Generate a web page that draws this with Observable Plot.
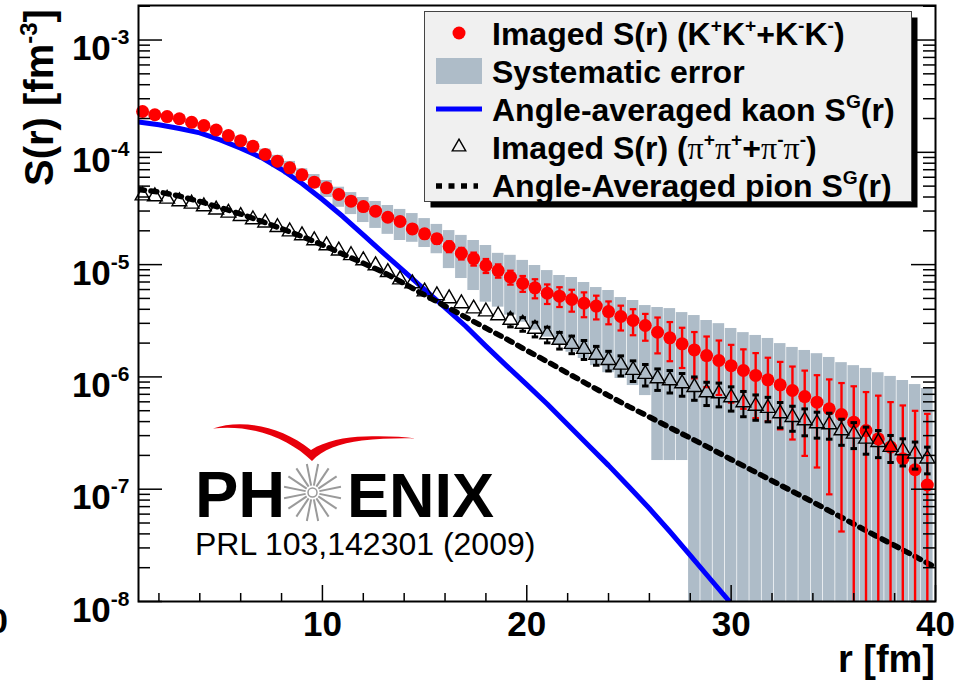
<!DOCTYPE html>
<html>
<head>
<meta charset="utf-8">
<script src="https://cdn.jsdelivr.net/npm/d3@7"></script>
<script src="https://cdn.jsdelivr.net/npm/@observablehq/plot@0.6"></script>
<style>
  html, body { margin: 0; padding: 0; background: #fff; }
  #chart { width: 957px; height: 686px; overflow: hidden; }
</style>
</head>
<body>
<div id="chart"></div>
<script>
// Bin centres of the imaged source functions, r in fm
const rBins = [1.2,1.8,2.4,3.0,3.6,4.2,4.8,5.4,6.0,6.6,7.2,7.8,8.4,9.0,9.6,10.2,10.8,11.4,12.0,12.6,
  13.2,13.8,14.4,15.0,15.6,16.2,16.8,17.4,18.0,18.6,19.2,19.8,20.4,21.0,21.6,22.2,22.8,23.4,24.0,24.6,
  25.2,25.8,26.4,27.0,27.6,28.2,28.8,29.4,30.0,30.6,31.2,31.8,32.4,33.0,33.6,34.2,34.8,35.4,36.0,36.6,
  37.2,37.8,38.4,39.0,39.6];

// Imaged S(r) for K+K+ + K-K-  [fm^-3]
const kaonS = [2.31e-4,2.16e-4,2.08e-4,1.99e-4,1.85e-4,1.73e-4,1.58e-4,1.41e-4,1.27e-4,1.13e-4,
  9.57e-5,8.34e-5,7.28e-5,6.31e-5,5.42e-5,4.83e-5,4.21e-5,3.67e-5,3.29e-5,2.99e-5,
  2.64e-5,2.42e-5,2.08e-5,1.88e-5,1.70e-5,1.45e-5,1.26e-5,1.13e-5,9.82e-6,8.85e-6,
  7.73e-6,6.82e-6,6.21e-6,5.56e-6,5.24e-6,4.89e-6,4.53e-6,4.27e-6,3.82e-6,3.45e-6,
  3.18e-6,2.87e-6,2.50e-6,2.23e-6,1.97e-6,1.74e-6,1.55e-6,1.40e-6,1.26e-6,1.14e-6,
  1.03e-6,9.42e-7,8.51e-7,7.57e-7,6.68e-7,5.96e-7,5.20e-7,4.62e-7,3.95e-7,3.33e-7,
  2.81e-7,2.37e-7,1.87e-7,1.49e-7,1.09e-7];
// statistical error of the kaon points
const kaonStat = [6.9e-6,6.5e-6,6.2e-6,6.0e-6,5.6e-6,5.2e-6,4.7e-6,4.2e-6,3.8e-6,3.4e-6,
  3.8e-6,3.3e-6,3.3e-6,3.2e-6,2.7e-6,2.7e-6,2.5e-6,2.2e-6,2.1e-6,2.1e-6,
  2.0e-6,1.9e-6,1.8e-6,1.7e-6,1.7e-6,1.6e-6,1.5e-6,1.5e-6,1.4e-6,1.2e-6,
  1.1e-6,1.1e-6,1.2e-6,1.1e-6,1.05e-6,1.08e-6,1.13e-6,1.02e-6,8.8e-7,8.6e-7,
  8.3e-7,7.7e-7,8.8e-7,8.5e-7,7.7e-7,7.7e-7,7.4e-7,7.1e-7,6.7e-7,6.2e-7,
  6.0e-7,5.4e-7,5.1e-7,4.8e-7,4.7e-7,4.4e-7,4.3e-7,4.2e-7,4.3e-7,4.0e-7,
  4.0e-7,3.6e-7,3.7e-7,3.5e-7,3.6e-7];
// systematic error band of the kaon points (upper / lower edge; 0 = reaches zero)
const kaonSysHi = [2.45e-4,2.29e-4,2.21e-4,2.11e-4,1.97e-4,1.85e-4,1.70e-4,1.53e-4,1.39e-4,1.25e-4,
  1.07e-4,9.4e-5,8.3e-5,7.13e-5,6.34e-5,5.61e-5,4.89e-5,4.38e-5,3.96e-5,3.65e-5,
  3.36e-5,3.10e-5,2.85e-5,2.57e-5,2.28e-5,2.01e-5,1.82e-5,1.64e-5,1.48e-5,1.26e-5,
  1.21e-5,1.09e-5,9.82e-6,8.85e-6,8.00e-6,7.68e-6,6.93e-6,6.25e-6,5.88e-6,5.09e-6,
  4.79e-6,4.32e-6,4.15e-6,4.06e-6,3.74e-6,3.52e-6,3.18e-6,2.98e-6,2.70e-6,2.48e-6,
  2.34e-6,2.20e-6,1.98e-6,1.83e-6,1.72e-6,1.61e-6,1.49e-6,1.34e-6,1.26e-6,1.19e-6,
  1.09e-6,1.01e-6,9.29e-7,8.55e-7,7.88e-7];
const kaonSysLo = [2.17e-4,2.03e-4,1.95e-4,1.87e-4,1.73e-4,1.61e-4,1.46e-4,1.29e-4,1.15e-4,1.01e-4,
  8.5e-5,7.3e-5,6.3e-5,5.61e-5,4.76e-5,3.96e-5,3.24e-5,2.79e-5,2.37e-5,2.10e-5,
  1.86e-5,1.64e-5,1.58e-5,1.42e-5,1.25e-5,9.22e-6,7.52e-6,5.88e-6,4.63e-6,4.18e-6,
  3.55e-6,3.07e-6,2.61e-6,2.26e-6,1.92e-6,1.66e-6,1.46e-6,1.26e-6,1.09e-6,9.68e-7,
  8.38e-7,6.82e-7,1.80e-7,1.80e-7,1.80e-7,0,0,0,0,0,
  0,0,0,0,0,0,0,0,0,0,
  0,0,0,0,0];

// Imaged S(r) for pi+pi+ + pi-pi-  [fm^-3]
const pionS = [4.12e-5,4.04e-5,3.85e-5,3.65e-5,3.48e-5,3.29e-5,3.08e-5,2.89e-5,2.70e-5,2.52e-5,
  2.36e-5,2.15e-5,1.97e-5,1.82e-5,1.64e-5,1.48e-5,1.33e-5,1.21e-5,1.09e-5,9.82e-6,
  8.55e-6,7.36e-6,6.79e-6,5.75e-6,5.31e-6,4.99e-6,4.51e-6,4.06e-6,3.82e-6,3.52e-6,
  3.21e-6,2.96e-6,2.67e-6,2.39e-6,2.13e-6,1.96e-6,1.77e-6,1.57e-6,1.41e-6,1.28e-6,
  1.15e-6,1.06e-6,9.68e-7,9.29e-7,8.73e-7,8.09e-7,7.26e-7,7.11e-7,6.56e-7,5.92e-7,
  5.51e-7,5.28e-7,4.72e-7,4.38e-7,4.09e-7,3.85e-7,3.77e-7,3.33e-7,3.11e-7,2.81e-7,
  2.62e-7,2.37e-7,2.21e-7,2.07e-7,1.87e-7];
const pionStat = [8.2e-7,8.1e-7,7.9e-7,7.7e-7,7.5e-7,7.4e-7,7.3e-7,7.2e-7,7.2e-7,7.1e-7,
  7.1e-7,6.9e-7,6.9e-7,6.9e-7,6.6e-7,6.2e-7,6.0e-7,5.7e-7,5.5e-7,5.4e-7,
  5.1e-7,4.8e-7,4.8e-7,4.3e-7,4.2e-7,4.5e-7,4.5e-7,4.1e-7,4.2e-7,4.2e-7,
  4.2e-7,4.1e-7,4.0e-7,3.8e-7,3.6e-7,3.5e-7,3.4e-7,3.0e-7,2.8e-7,2.6e-7,
  2.4e-7,2.3e-7,2.1e-7,2.1e-7,2.0e-7,1.9e-7,1.7e-7,1.7e-7,1.6e-7,1.5e-7,
  1.4e-7,1.3e-7,1.2e-7,1.1e-7,1.1e-7,1.0e-7,9.8e-8,8.7e-8,8.1e-8,7.6e-8,
  7.1e-8,6.4e-8,6.0e-8,5.6e-8,5.0e-8];

// Angle-averaged Gaussian source functions S^G(r)
const kaonFitR = [1,2,3,4,5,6,7,8,9,10,11,12,13,14,15,16,17,18,19,20,21,22,23,24,25,26,27,28,29,30];
const kaonFit = [1.86e-4,1.76e-4,1.63e-4,1.49e-4,1.29e-4,1.09e-4,9.0e-5,7.03e-5,5.27e-5,3.80e-5,
  2.68e-5,1.84e-5,1.26e-5,8.69e-6,6.0e-6,4.15e-6,2.84e-6,1.88e-6,1.26e-6,8.55e-7,
  5.74e-7,3.77e-7,2.48e-7,1.63e-7,1.05e-7,6.73e-8,4.20e-8,2.57e-8,1.57e-8,9.6e-9];
const pionFitR = [1,2,3,4,5,6,7,8,9,10,11,12,13,14,15,16,17,18,19,20,
  21,22,23,24,25,26,27,28,29,30,31,32,33,34,35,36,37,38,39,40];
const pionFit = [4.67e-5,4.43e-5,4.08e-5,3.65e-5,3.22e-5,2.82e-5,2.44e-5,2.09e-5,1.78e-5,1.50e-5,
  1.24e-5,1.03e-5,8.51e-6,6.79e-6,5.36e-6,4.28e-6,3.41e-6,2.72e-6,2.18e-6,1.72e-6,
  1.37e-6,1.08e-6,8.55e-7,6.82e-7,5.44e-7,4.40e-7,3.54e-7,2.86e-7,2.30e-7,1.84e-7,
  1.48e-7,1.19e-7,9.55e-8,7.69e-8,6.14e-8,4.90e-8,3.91e-8,3.15e-8,2.52e-8,2.01e-8];

// Axis ticks
const yDecades = [1e-8, 1e-7, 1e-6, 1e-5, 1e-4, 1e-3];
const xMajor = [10, 20, 30, 40];
const xMinor = [2,4,6,8,12,14,16,18,22,24,26,28,32,34,36,38];

// ---- tables for the marks ----
const yMin = 1e-8, yMax = 2.03e-3, yBelow = 1e-9;
const halfBin = 0.3, capHalf = 0.16;
const kaon = rBins.map((r, i) => ({r, s: kaonS[i], e: kaonStat[i], lo: kaonSysLo[i], hi: kaonSysHi[i]}));
const pion = rBins.map((r, i) => ({r, s: pionS[i], e: pionStat[i]}));
const pionBars = pion.filter(d => d.e / d.s > 0.12);   // bars shorter than the marker are hidden by it
const kaonFitData = kaonFitR.map((r, i) => ({r, s: kaonFit[i]}));
const pionFitData = pionFitR.map((r, i) => ({r, s: pionFit[i]}));
const yMinor = yDecades.flatMap(d => [2,3,4,5,6,7,8,9].map(k => k * d)).filter(v => v < yMax);

const frameW = 957 - 138 - 22, frameH = 686 - 5 - 85;
const RED = "#ff0000", BLUE = "#0000ff", BAND = "#aebcc8";

const chart = Plot.plot({
  width: 957, height: 686,
  marginLeft: 138, marginRight: 22, marginTop: 5, marginBottom: 85,
  style: {fontFamily: "'Liberation Sans', Arial, Helvetica, sans-serif", fontWeight: "bold", background: "#fff", overflow: "visible"},
  x: {domain: [1, 40]},
  y: {type: "log", domain: [yMin, yMax]},
  marks: [
    // systematic error band
    Plot.rect(kaon, {x1: d => d.r - halfBin, x2: d => d.r + halfBin, y1: d => Math.max(d.lo, yBelow), y2: "hi",
      fill: BAND, insetLeft: 0.35, insetRight: 0.35, clip: true}),
    // Gaussian source functions
    Plot.line(kaonFitData, {x: "r", y: "s", stroke: BLUE, strokeWidth: 5, clip: true}),
    Plot.line(pionFitData, {x: "r", y: "s", stroke: "#000", strokeWidth: 5.5, strokeDasharray: "6,6.5", clip: true}),
    // kaon statistical errors and points
    Plot.ruleX(kaon, {x: "r", y1: d => Math.max(d.s - d.e, yBelow), y2: d => d.s + d.e, stroke: RED, strokeWidth: 2.4, clip: true}),
    Plot.link(kaon, {x1: d => d.r - capHalf, x2: d => d.r + capHalf, y1: d => d.s + d.e, y2: d => d.s + d.e, stroke: RED, strokeWidth: 2.2}),
    Plot.link(kaon.filter(d => d.s - d.e > yMin), {x1: d => d.r - capHalf, x2: d => d.r + capHalf, y1: d => d.s - d.e, y2: d => d.s - d.e, stroke: RED, strokeWidth: 2.2}),
    Plot.dot(kaon, {x: "r", y: "s", r: 6.5, fill: RED}),
    // pion statistical errors (drawn outside the open marker) and points
    Plot.ruleX(pionBars, {x: "r", y1: d => d.s + d.e, y2: "s", insetBottom: 8, stroke: "#000", strokeWidth: 2}),
    Plot.ruleX(pionBars, {x: "r", y1: "s", y2: d => d.s - d.e, insetTop: 4.5, stroke: "#000", strokeWidth: 2}),
    Plot.link(pionBars, {x1: d => d.r - capHalf, x2: d => d.r + capHalf, y1: d => d.s + d.e, y2: d => d.s + d.e, stroke: "#000", strokeWidth: 3}),
    Plot.link(pionBars, {x1: d => d.r - capHalf, x2: d => d.r + capHalf, y1: d => d.s - d.e, y2: d => d.s - d.e, stroke: "#000", strokeWidth: 3}),
    Plot.dot(pion, {x: "r", y: "s", symbol: "triangle", r: 5.5, stroke: "#000", strokeWidth: 1.4, fill: "none"}),
    // inner ticks on all four sides (ROOT style)
    Plot.tickY(yDecades, {insetRight: frameW - 24, stroke: "#000", strokeWidth: 1.5}),
    Plot.tickY(yMinor, {insetRight: frameW - 12, stroke: "#000", strokeWidth: 1.5}),
    Plot.tickY(yDecades, {insetLeft: frameW - 24, stroke: "#000", strokeWidth: 1.5}),
    Plot.tickY(yMinor, {insetLeft: frameW - 12, stroke: "#000", strokeWidth: 1.5}),
    Plot.tickX(xMajor, {insetTop: frameH - 16, stroke: "#000", strokeWidth: 1.5}),
    Plot.tickX(xMinor, {insetTop: frameH - 8, stroke: "#000", strokeWidth: 1.5}),
    Plot.frame({stroke: "#000", strokeWidth: 2}),
    Plot.axisY(yDecades, {anchor: "left", tickSize: 0, tickPadding: 9, fontSize: 35, label: null,
      tickFormat: d => "10^" + Math.round(Math.log10(d))}),
    Plot.axisX(xMajor, {anchor: "bottom", tickSize: 0, tickPadding: 10, fontSize: 35, label: null,
      tickFormat: d => String(d)})
  ]
});

document.getElementById("chart").appendChild(chart);

const svg = d3.select(chart);
const FONT = "'Liberation Sans', Arial, Helvetica, sans-serif";

// decade labels: "10" with a raised exponent
svg.selectAll('g[aria-label="y-axis tick label"] text').each(function () {
  const [base, exp] = this.textContent.split("^");
  const t = d3.select(this);
  t.text(base).attr("y", 20);
  t.append("tspan").attr("dy", -16).attr("font-size", 21).text(exp);
});

const ann = svg.append("g").attr("font-family", FONT).attr("font-weight", "bold").attr("text-anchor", "start");

// rich text helper: parts are [string, {sup, serif}]
function richText(parent, x, y, size, parts, attrs = {}) {
  const t = parent.append("text").attr("x", x).attr("y", y).attr("font-size", size);
  for (const [k, v] of Object.entries(attrs)) t.attr(k, v);
  let raised = 0;
  for (const [str, o = {}] of parts) {
    const sp = t.append("tspan").text(str);
    const want = o.sup ? -size * 0.4 : 0;
    if (want !== raised) { sp.attr("dy", want - raised); raised = want; }
    if (o.sup) sp.attr("font-size", size * 0.6);
    if (o.serif) sp.attr("font-family", "'Liberation Serif', 'Times New Roman', serif").attr("font-weight", "normal");
  }
  return t;
}

// axis titles
richText(ann, 0, 0, 40, [["S(r) [fm"], ["-3", {sup: true}], ["]"]], {transform: "translate(53,186) rotate(-90)"});
ann.append("text").attr("x", 935).attr("y", 672).attr("font-size", 38).attr("text-anchor", "end").text("r [fm]");

// label of the neighbouring panel, cut by the left edge
ann.append("text").attr("x", 8).attr("y", 633).attr("font-size", 35).attr("text-anchor", "end").text("0");

// legend box with drop shadow
const lg = ann.append("g");
const L = {x: 424.5, y: 11.5, w: 487, h: 190};
lg.append("rect").attr("x", L.x + 6).attr("y", L.y + 6).attr("width", L.w).attr("height", L.h).attr("fill", "#000");
lg.append("rect").attr("x", L.x).attr("y", L.y).attr("width", L.w).attr("height", L.h)
  .attr("fill", "#f0f0f0").attr("stroke", "#444").attr("stroke-width", 1);
const rowY = [33, 71, 109, 147, 185];
const symX = 459, textX = 492;
lg.append("circle").attr("cx", symX).attr("cy", rowY[0]).attr("r", 6.5).attr("fill", RED);
lg.append("rect").attr("x", 436).attr("y", rowY[1] - 13).attr("width", 46).attr("height", 26).attr("fill", BAND);
lg.append("line").attr("x1", 436).attr("x2", 482).attr("y1", rowY[2]).attr("y2", rowY[2]).attr("stroke", BLUE).attr("stroke-width", 5);
lg.append("path").attr("transform", `translate(${symX},${rowY[3]})`).attr("d", d3.symbol(d3.symbolTriangle, Math.PI * 25)())
  .attr("fill", "none").attr("stroke", "#000").attr("stroke-width", 1.4);
lg.append("line").attr("x1", 436).attr("x2", 478).attr("y1", rowY[4] + 1).attr("y2", rowY[4] + 1).attr("stroke", "#000")
  .attr("stroke-width", 5.5).attr("stroke-dasharray", "6,6.5");
const LS = 32, base = 12;
richText(lg, textX, rowY[0] + base, LS, [["Imaged S(r) (K"], ["+", {sup: true}], ["K"], ["+", {sup: true}], ["+K"], ["-", {sup: true}], ["K"], ["-", {sup: true}], [")"]]);
richText(lg, textX, rowY[1] + base, LS, [["Systematic error"]]);
richText(lg, textX, rowY[2] + base, LS, [["Angle-averaged kaon S"], ["G", {sup: true}], ["(r)"]]);
richText(lg, textX, rowY[3] + base, LS, [["Imaged S(r) ("], ["π", {serif: true}], ["+", {sup: true}], ["π", {serif: true}], ["+", {sup: true}],
  ["+"], ["π", {serif: true}], ["-", {sup: true}], ["π", {serif: true}], ["-", {sup: true}], [")"]]);
richText(lg, textX, rowY[4] + base, LS, [["Angle-Averaged pion S"], ["G", {sup: true}], ["(r)"]]);

// collaboration logo and reference
const logo = ann.append("g");
logo.append("path").attr("fill", "#e8000b").attr("d",
  "M213,428.5 C240,419 280,425 311,450 C325,441 345,437 365,436.5 C385,436 402,436.5 416,438.5 " +
  "C400,438 380,438.5 362,440.5 C340,443 322,450 312,461 C290,440 255,424 213,428.5 Z");
logo.append("text").attr("x", 195).attr("y", 517).attr("font-size", 65).text("PH");
logo.append("text").attr("x", 347).attr("y", 517).attr("font-size", 63).text("ENIX");
const star = logo.append("g").attr("transform", "translate(312.5,492.5)").attr("stroke", "#9a9a9a").attr("stroke-width", 2);
d3.range(16).forEach(k => {
  const a = k * Math.PI / 8 + Math.PI / 16;
  star.append("line").attr("x1", 7 * Math.cos(a)).attr("y1", 7 * Math.sin(a))
    .attr("x2", 29 * Math.cos(a)).attr("y2", 29 * Math.sin(a));
});
star.append("circle").attr("r", 4.5).attr("fill", "#fff").attr("stroke-width", 1.5);
logo.append("text").attr("x", 195).attr("y", 555).attr("font-size", 32).attr("font-weight", "normal").text("PRL 103,142301 (2009)");
</script>
</body>
</html>
